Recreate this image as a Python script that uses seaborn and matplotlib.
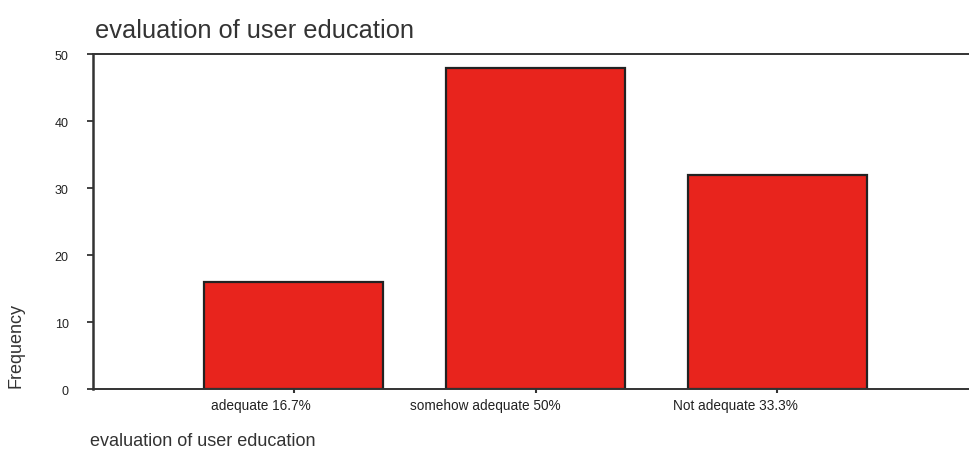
import matplotlib
matplotlib.use("Agg")
import matplotlib.pyplot as plt
import matplotlib.transforms as mtransforms
import seaborn as sns
import pandas as pd

categories = ["adequate 16.7%", "somehow adequate 50%", "Not adequate 33.3%"]
frequency = [16, 48, 32]
y_ticks = [0, 10, 20, 30, 40, 50]

df = pd.DataFrame({"evaluation": categories, "Frequency": frequency})

sns.set_style("ticks")
plt.rcParams["font.family"] = ["Liberation Sans", "DejaVu Sans"]

fig = plt.figure(figsize=(9.7, 4.52), dpi=100)
ax = fig.add_axes([0.0959, 0.137, 0.93, 0.741])

sns.barplot(data=df, x="evaluation", y="Frequency", color="#e8241d",
            edgecolor="#222222", linewidth=1.6, width=0.74, saturation=1, ax=ax)

ax.set_xlim(-0.83, 2.90)
ax.set_ylim(0, 50)
ax.set_yticks(y_ticks)
ax.set_xlabel("")
ax.set_ylabel("")

for side in ["top", "bottom", "left"]:
    ax.spines[side].set_visible(True)
    ax.spines[side].set_color("#333333")
    ax.spines[side].set_linewidth(1.4)
ax.spines["left"].set_linewidth(1.8)
ax.spines["right"].set_visible(False)

ax.tick_params(axis="y", length=4.5, width=1.3, color="#333333", labelsize=9,
               pad=13, labelcolor="#222222")
ax.tick_params(axis="x", length=3, width=1.5, color="#333333", labelbottom=False)

# category labels sit a little left of their ticks, as in the original
xt = ax.get_xticks()
labels = []
for pos, name in zip(xt, categories):
    t = ax.text(pos, 0, name, fontsize=9.8, color="#222222", ha="center", va="top",
                transform=ax.get_xaxis_transform())
    labels.append(t)
fig.canvas.draw()
renderer = fig.canvas.get_renderer()
for t in labels:
    w = t.get_window_extent(renderer).width
    shift = mtransforms.ScaledTranslation(-w / 3 / fig.dpi, -9 / fig.dpi, fig.dpi_scale_trans)
    t.set_transform(ax.get_xaxis_transform() + shift)

fig.text(0.098, 1 - 38 / 452, "evaluation of user education", fontsize=18.3,
         color="#333333", ha="left", va="baseline")
fig.text(16 / 970, 1 - 345 / 452, "Frequency", fontsize=13, rotation=90,
         color="#333333", ha="center", va="center")
fig.text(0.093, 0.013, "evaluation of user education", fontsize=13,
         color="#333333", ha="left", va="baseline")

fig.savefig("out.png", dpi=100)
